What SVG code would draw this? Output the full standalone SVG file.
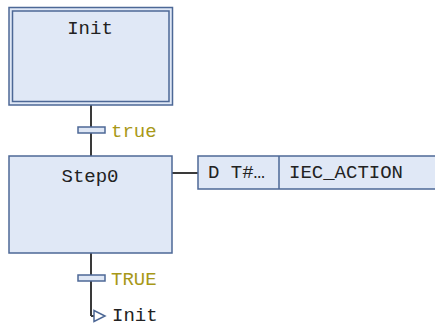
<svg xmlns="http://www.w3.org/2000/svg" width="435" height="327" viewBox="0 0 435 327">
<style>
.box{fill:#e0e8f6;stroke:#4d6896;stroke-width:1.5}
.bar{fill:#dfe7f5;stroke:#4d6896;stroke-width:1.5}
.ln{stroke:#3a3a3a;stroke-width:2;fill:none}
.t{font-family:"Liberation Mono","Courier New",monospace;font-size:19px;fill:#222}
.c{font-family:"Liberation Mono","Courier New",monospace;font-size:19px;fill:#a89818}
</style>
<rect width="435" height="327" fill="#ffffff"/>
<g id="connectors">
<line class="ln" x1="91" y1="105" x2="91" y2="156"/>
<line class="ln" x1="91" y1="253" x2="91" y2="316"/>
<line class="ln" x1="172" y1="173" x2="198" y2="173"/>
<line class="ln" x1="91" y1="316" x2="94" y2="316"/>
</g>
<g id="Init">
<rect class="box" x="9" y="7.5" width="163.5" height="97.5"/>
<rect x="12.5" y="11" width="156.5" height="90.5" fill="none" stroke="#4d6896" stroke-width="1.5"/>
<text class="t" x="90" y="34" text-anchor="middle">Init</text>
</g>
<g id="trans1">
<rect class="bar" x="78" y="127" width="27" height="6"/>
<text class="c" x="111" y="137">true</text>
</g>
<g id="Step0">
<rect class="box" x="9" y="156" width="163" height="97"/>
<text class="t" x="90" y="182" text-anchor="middle">Step0</text>
</g>
<g id="action">
<rect class="box" x="198" y="156" width="245" height="33"/>
<line x1="279" y1="156" x2="279" y2="189" stroke="#4d6896" stroke-width="1.5"/>
<text class="t" x="208" y="178">D T#…</text>
<text class="t" x="289" y="178">IEC_ACTION</text>
</g>
<g id="trans2">
<rect class="bar" x="78" y="275" width="27" height="6"/>
<text class="c" x="111" y="285">TRUE</text>
</g>
<g id="jump">
<polygon points="94,310.5 105,316 94,321.5" fill="#ffffff" stroke="#4d6896" stroke-width="1.5"/>
<text class="t" x="112" y="321">Init</text>
</g>
</svg>
